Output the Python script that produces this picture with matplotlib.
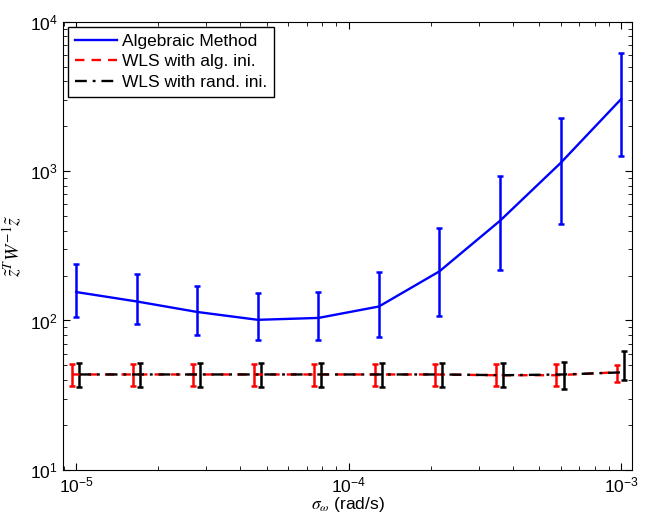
import matplotlib
matplotlib.use("Agg")
import matplotlib.pyplot as plt
from matplotlib.lines import Line2D
from matplotlib.ticker import LogLocator, NullFormatter

plt.rcParams["font.family"] = ["Liberation Sans", "DejaVu Sans"]
plt.rcParams["mathtext.fontset"] = "stix"

# sigma_omega values (rad/s)
sigma = [1.0e-5, 1.67e-5, 2.78e-5, 4.64e-5, 7.74e-5, 1.29e-4, 2.15e-4, 3.59e-4, 5.99e-4, 1.0e-3]

# Algebraic method
alg_mean = [155, 134, 114, 101, 104, 124, 213, 465, 1133, 3041]
alg_upper = [240, 205, 169, 153, 155, 210, 416, 931, 2256, 6180]
alg_lower = [106, 94, 80, 74, 74, 78, 107, 219, 440, 1268]

# WLS with algebraic initialisation
wls_alg_mean = [43.5, 43.5, 43.5, 43.5, 43.5, 43.5, 43.5, 43.0, 43.0, 45.0]
wls_alg_upper = [51, 51, 51, 51, 51, 51, 51, 51, 51, 50]
wls_alg_lower = [36.5, 36.5, 36.5, 36.5, 36.5, 36.5, 36.5, 36.5, 36.5, 38.5]

# WLS with random initialisation
wls_rand_mean = [43.5, 43.5, 43.5, 43.5, 43.5, 43.5, 43.5, 43.0, 43.5, 45.0]
wls_rand_upper = [52, 52, 52, 52, 52, 52, 52, 52, 53, 62]
wls_rand_lower = [36, 36, 36, 36, 36, 36, 36, 36, 35, 40]


def err(mean, lower, upper):
    return [[m - lo for m, lo in zip(mean, lower)], [up - m for m, up in zip(mean, upper)]]


fig = plt.figure(figsize=(6.51, 5.18), dpi=100)
ax = fig.add_axes([0.097, 0.093, 0.874, 0.865])

eb_kw = dict(capsize=2.5, capthick=1.8, elinewidth=1.8, lw=1.7)
ax.errorbar(sigma, alg_mean, yerr=err(alg_mean, alg_lower, alg_upper),
            color="blue", ls="-", **eb_kw)
ax.errorbar([s * 0.964 for s in sigma], wls_alg_mean,
            yerr=err(wls_alg_mean, wls_alg_lower, wls_alg_upper),
            color="red", ls=(0, (4, 3)), **eb_kw)
ax.errorbar([s * 1.026 for s in sigma], wls_rand_mean,
            yerr=err(wls_rand_mean, wls_rand_lower, wls_rand_upper),
            color="black", ls=(0, (5, 2.5, 1.2, 2.5)), **eb_kw)

ax.set_xscale("log")
ax.set_yscale("log")
ax.set_xlim(10 ** -5.048, 10 ** -2.96)
ax.set_ylim(10, 1e4)
ax.xaxis.set_major_locator(LogLocator(base=10, numticks=10))
ax.yaxis.set_major_locator(LogLocator(base=10, numticks=10))
ax.xaxis.set_minor_locator(LogLocator(base=10, subs=range(2, 10), numticks=20))
ax.yaxis.set_minor_locator(LogLocator(base=10, subs=range(2, 10), numticks=20))
ax.xaxis.set_minor_formatter(NullFormatter())
ax.yaxis.set_minor_formatter(NullFormatter())
ax.tick_params(which="both", direction="in", top=True, right=True, labelsize=12.5, pad=4)
ax.tick_params(which="major", length=5)
ax.tick_params(which="minor", length=3)

ax.set_xlabel(r"$\sigma_\omega$ (rad/s)", fontsize=12.5, labelpad=0)
ax.set_ylabel(r"$\tilde{z}^TW^{-1}\tilde{z}$", fontsize=14, labelpad=4)

handles = [
    Line2D([], [], color="blue", lw=1.7, ls="-"),
    Line2D([], [], color="red", lw=1.7, ls=(0, (4, 3))),
    Line2D([], [], color="black", lw=1.7, ls=(0, (5, 2.5, 1.2, 2.5))),
]
labels = ["Algebraic Method", "WLS with alg. ini.", "WLS with rand. ini."]
leg = ax.legend(handles, labels, loc="upper left", fontsize=12.5, handlelength=2.4,
                borderpad=0.4, labelspacing=0.3, handletextpad=0.3, fancybox=False,
                borderaxespad=0.3)
leg.get_frame().set_edgecolor("black")
leg.get_frame().set_linewidth(1.0)
leg.get_frame().set_alpha(1)

fig.savefig("out.png", dpi=100)
